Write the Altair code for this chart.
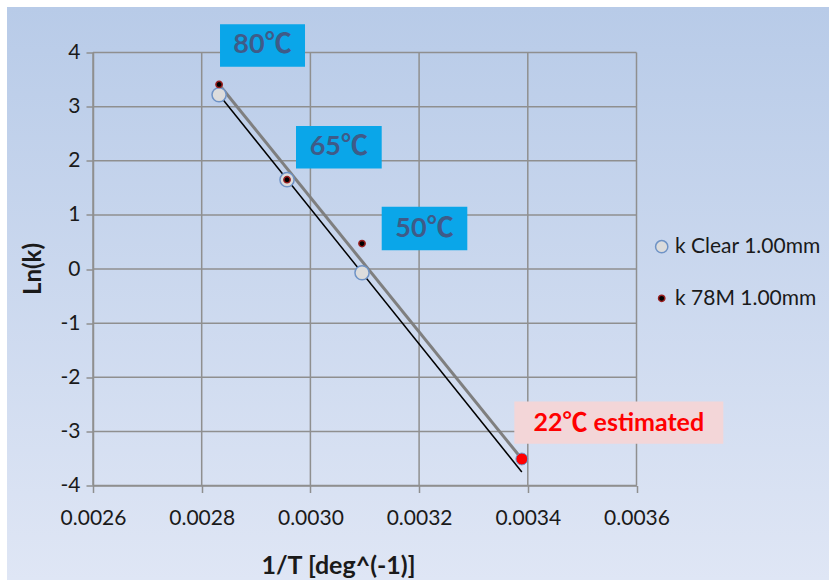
import altair as alt
import pandas as pd

# ---- data ----
inv_T = [0.002832, 0.002957, 0.003095]          # 80, 65, 50 degC
ln_k_clear = [3.22, 1.65, -0.07]
ln_k_78m = [3.41, 1.65, 0.47]
est_inv_T = [0.003389]                          # 22 degC
est_ln_k = [-3.51]
fit_x = [0.002832, 0.003389]
fit_clear_y = [3.22, -3.75]
fit_78m_y = [3.41, -3.51]

x_ticks = [0.0026, 0.0028, 0.0030, 0.0032, 0.0034, 0.0036]
y_ticks = [-4, -3, -2, -1, 0, 1, 2, 3, 4]

temp_labels = ["80℃", "65℃", "50℃"]
est_label = ["22℃ estimated"]
legend_names = ["k Clear 1.00mm", "k 78M 1.00mm"]

# annotation boxes (data coordinates)
box_x = [0.0028337, 0.0029735, 0.0031312]
box_x2 = [0.0029901, 0.0031312, 0.0032887]
box_y = [4.522, 2.640, 1.148]
box_y2 = [3.737, 1.858, 0.347]
est_box = dict(x=0.0033752, x2=0.0037597, y=-2.447, y2=-3.229)

W, H = 543.5, 433
FONT = "Lato, 'Noto Sans CJK JP', sans-serif"

xs = alt.Scale(domain=[0.0026, 0.0036], nice=False, zero=False)
ys = alt.Scale(domain=[-4, 4], nice=False, zero=False)

one = pd.DataFrame({"a": [0]})

bg = alt.Chart(one).mark_rect(
    fill=alt.LinearGradient(
        gradient="linear",
        stops=[alt.GradientStop(color="#b8cbe8", offset=0),
               alt.GradientStop(color="#dfe6f5", offset=1)],
        x1=0, x2=0, y1=0, y2=1),
).encode(x=alt.value(-86), x2=alt.value(736), y=alt.value(-45.5), y2=alt.value(527.5))

vgrid = alt.Chart(pd.DataFrame({"x": x_ticks})).mark_rule(
    color="#8f8f8f", strokeWidth=1.5
).encode(x=alt.X("x:Q", scale=xs), y=alt.value(0), y2=alt.value(H))

hgrid = alt.Chart(pd.DataFrame({"y": y_ticks})).mark_rule(
    color="#8f8f8f", strokeWidth=1.5
).encode(y=alt.Y("y:Q", scale=ys), x=alt.value(0), x2=alt.value(W))

fit_df = pd.DataFrame({"x": fit_x, "yc": fit_clear_y, "ym": fit_78m_y})
gray_line = alt.Chart(fit_df).mark_line(color="#7f7f7f", strokeWidth=3).encode(
    x=alt.X("x:Q", scale=xs), y=alt.Y("ym:Q", scale=ys))
black_line = alt.Chart(fit_df).mark_line(color="#000000", strokeWidth=1.5).encode(
    x=alt.X("x:Q", scale=xs), y=alt.Y("yc:Q", scale=ys))

pts = pd.DataFrame({"x": inv_T, "clear": ln_k_clear, "m78": ln_k_78m})
clear_pts = alt.Chart(pts).mark_point(
    filled=True, fill="#dcdcdc", stroke="#6f93c6", strokeWidth=1.5, size=200, opacity=1
).encode(x=alt.X("x:Q", scale=xs), y=alt.Y("clear:Q", scale=ys))
m78_pts = alt.Chart(pts).mark_point(
    filled=True, fill="#000000", stroke="#9a2020", strokeWidth=1.5, size=40, opacity=1
).encode(x=alt.X("x:Q", scale=xs), y=alt.Y("m78:Q", scale=ys))

est_df = pd.DataFrame({"x": est_inv_T, "y": est_ln_k})
est_pt = alt.Chart(est_df).mark_point(
    filled=True, fill="#ff0000", stroke="#6f93c6", strokeWidth=1, size=140, opacity=1
).encode(x=alt.X("x:Q", scale=xs), y=alt.Y("y:Q", scale=ys))

box_df = pd.DataFrame({"x": box_x, "x2": box_x2, "y": box_y, "y2": box_y2,
                       "t": temp_labels})
boxes = alt.Chart(box_df).mark_rect(fill="#0aa6e9").encode(
    x=alt.X("x:Q", scale=xs), x2="x2:Q", y=alt.Y("y:Q", scale=ys), y2="y2:Q")
box_txt = alt.Chart(box_df).transform_calculate(
    cx="(datum.x + datum.x2) / 2", cy="(datum.y + datum.y2) / 2"
).mark_text(font=FONT, fontSize=27, fontWeight="bold", color="#3f5b88",
            align="center", baseline="middle").encode(
    x=alt.X("cx:Q", scale=xs), y=alt.Y("cy:Q", scale=ys), text="t:N")

est_box_df = pd.DataFrame({**{k: [v] for k, v in est_box.items()}, "t": est_label})
ebox = alt.Chart(est_box_df).mark_rect(fill="#f3d6d8").encode(
    x=alt.X("x:Q", scale=xs), x2="x2:Q", y=alt.Y("y:Q", scale=ys), y2="y2:Q")
ebox_txt = alt.Chart(est_box_df).transform_calculate(
    cx="(datum.x + datum.x2) / 2", cy="(datum.y + datum.y2) / 2"
).mark_text(font=FONT, fontSize=25, fontWeight="bold", color="#ff0000",
            align="center", baseline="middle").encode(
    x=alt.X("cx:Q", scale=xs), y=alt.Y("cy:Q", scale=ys), text="t:N")

# manual legend
leg_clear_m = alt.Chart(one).mark_point(
    filled=True, fill="#dcdcdc", stroke="#6f93c6", strokeWidth=1.5, size=150, opacity=1
).encode(x=alt.value(568.7), y=alt.value(194.2))
leg_78m_m = alt.Chart(one).mark_point(
    filled=True, fill="#000000", stroke="#9a2020", strokeWidth=1.5, size=40, opacity=1
).encode(x=alt.value(568.7), y=alt.value(245.8))
leg_txt1 = alt.Chart(one).mark_text(
    font=FONT, fontSize=21, color="#1a1a1a", align="left", baseline="middle"
).encode(x=alt.value(582), y=alt.value(194.5), text=alt.value(legend_names[0]))
leg_txt2 = alt.Chart(one).mark_text(
    font=FONT, fontSize=21, color="#1a1a1a", align="left", baseline="middle"
).encode(x=alt.value(582), y=alt.value(246), text=alt.value(legend_names[1]))

# axes carrier
axis_layer = alt.Chart(pts).mark_point(opacity=0).encode(
    x=alt.X("x:Q", scale=xs, axis=alt.Axis(
        values=x_ticks, format=".4f", grid=False, zindex=1, labelFlush=False,
        title="1/T [deg^(-1)]", titleFont=FONT, titleFontSize=25, titleFontWeight="bold",
        titleColor="#1a1a1a", titleX=245, titleY=80, titleBaseline="middle",
        titleAlign="center", titleAnchor="start",
        labelFont=FONT, labelFontSize=21, labelColor="#1a1a1a", labelPadding=15,
        tickSize=7, tickColor="#8f8f8f", tickWidth=1.5,
        domainColor="#8f8f8f", domainWidth=1.5)),
    y=alt.Y("clear:Q", scale=ys, axis=alt.Axis(
        values=y_ticks, grid=False, zindex=1, labelExpr="'' + datum.value",
        labelFlush=False,
        title="Ln(k)", titleFont=FONT, titleFontSize=24, titleFontWeight="bold",
        titleColor="#1a1a1a", titleX=-60, titleY=216, titleBaseline="middle",
        titleAlign="center", titleAnchor="start", titleAngle=270,
        labelFont=FONT, labelFontSize=21, labelColor="#1a1a1a", labelPadding=6,
        tickSize=7, tickColor="#8f8f8f", tickWidth=1.5,
        domainColor="#8f8f8f", domainWidth=1.5)),
)

chart = alt.layer(
    bg, vgrid, hgrid, gray_line, black_line, clear_pts, m78_pts, est_pt,
    boxes, box_txt, ebox, ebox_txt,
    leg_clear_m, leg_78m_m, leg_txt1, leg_txt2, axis_layer
).properties(
    width=W, height=H,
    autosize=alt.AutoSizeParams(type="none"),
    padding={"left": 93, "top": 52.5, "right": 192.5, "bottom": 94.5},
    background="white",
).configure_view(stroke=None)

chart.save("out.html", embed_options={"renderer": "svg", "actions": False})
